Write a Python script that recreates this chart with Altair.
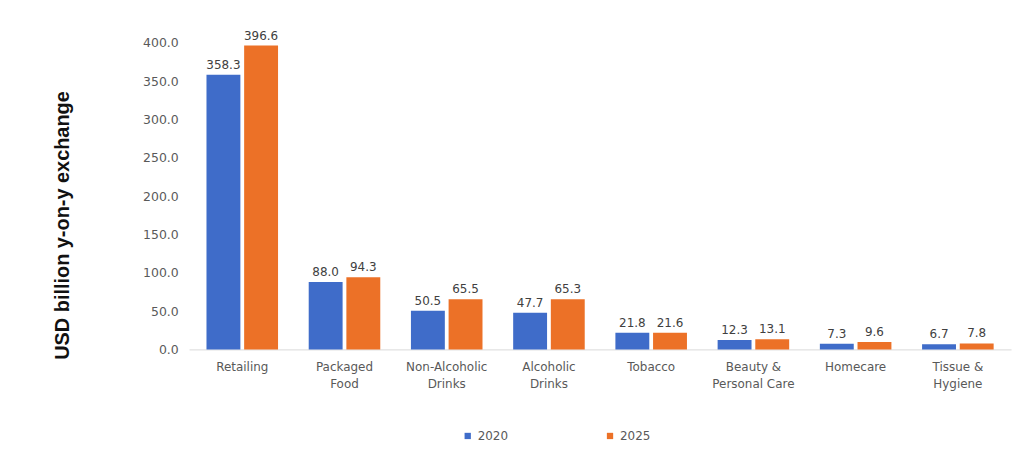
import altair as alt
import pandas as pd

categories = ["Retailing", "Packaged|Food", "Non-Alcoholic|Drinks", "Alcoholic|Drinks",
              "Tobacco", "Beauty &|Personal Care", "Homecare", "Tissue &|Hygiene"]
v2020 = [358.3, 88.0, 50.5, 47.7, 21.8, 12.3, 7.3, 6.7]
v2025 = [396.6, 94.3, 65.5, 65.3, 21.6, 13.1, 9.6, 7.8]
years = ["2020", "2025"]
y_ticks = [0, 50, 100, 150, 200, 250, 300, 350, 400]
colors = ["#3F6CC9", "#EC7127"]
FONT = "DejaVu Sans"

rows = []
for c, a, b in zip(categories, v2020, v2025):
    rows.append({"cat": c, "year": "2020", "value": a})
    rows.append({"cat": c, "year": "2025", "value": b})
df = pd.DataFrame(rows)

x = alt.X("cat:N", sort=categories, title=None,
          scale=alt.Scale(paddingInner=0.3, paddingOuter=0.17),
          axis=alt.Axis(labelAngle=0, labelExpr="split(datum.label, '|')",
                        labelColor="#595959", labelFontSize=12, labelFont=FONT,
                        labelPadding=12, ticks=False, domainColor="#D9D9D9", labelLineHeight=17))
xo = alt.XOffset("year:N", sort=years, scale=alt.Scale(paddingInner=0.1))
y = alt.Y("value:Q", title="USD billion y-on-y exchange",
          scale=alt.Scale(domain=[0, 400]),
          axis=alt.Axis(values=y_ticks, format=".1f", grid=False,
                        domain=False, ticks=False, labelOverlap=False,
                        labelColor="#595959", labelFontSize=12.5,
                        labelFont=FONT, labelPadding=11,
                        titleFont="Liberation Sans", titleFontSize=20, titleFontWeight="bold",
                        titleColor="#111111", titlePadding=70, titleY=183))

base = alt.Chart(df)
bars = base.mark_bar().encode(
    x=x, xOffset=xo, y=y,
    color=alt.Color("year:N", sort=years, scale=alt.Scale(domain=years, range=colors),
                    legend=alt.Legend(title=None, orient="none", direction="horizontal",
                                      legendX=274, legendY=389,
                                      symbolType="square", symbolSize=40, labelFontSize=12,
                                      labelColor="#595959", labelFont=FONT,
                                      columnPadding=96)),
)
labels = base.mark_text(dy=-10, fontSize=12, color="#404040", font=FONT).encode(
    x=x, xOffset=xo, y=y,
    text=alt.Text("value:Q", format=".1f"),
)

chart = (bars + labels).properties(
    width=826, height=308,
    padding={"left": 45, "top": 20, "right": 5, "bottom": 5},
).configure_view(stroke=None)

chart.save("out.html", embed_options={"renderer": "svg", "actions": False})
